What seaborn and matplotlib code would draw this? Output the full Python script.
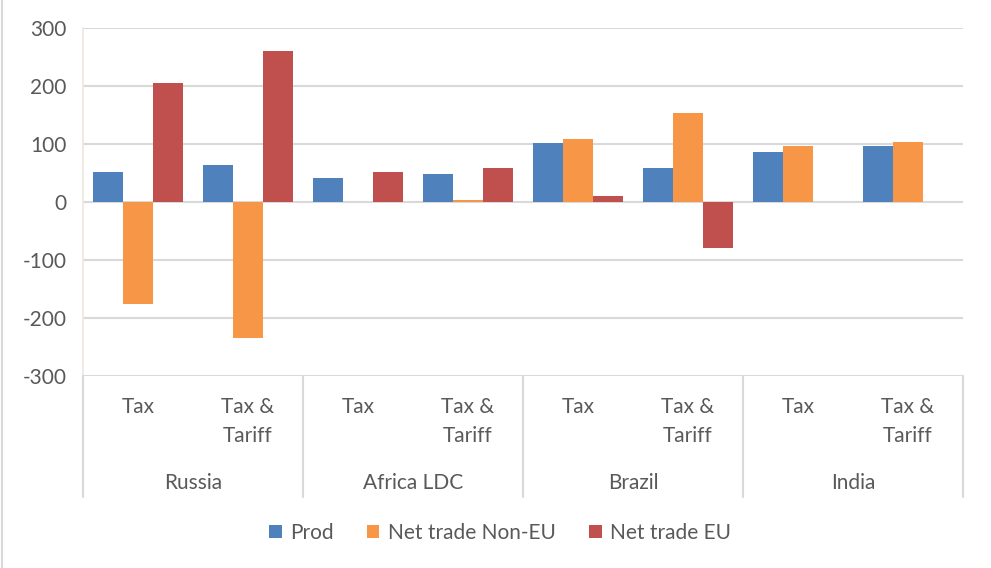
import matplotlib
matplotlib.use("Agg")
import matplotlib.pyplot as plt
import matplotlib.transforms as mtransforms
from matplotlib.lines import Line2D
from matplotlib.patches import Patch
import pandas as pd
import seaborn as sns

# Data
regions = ["Russia", "Africa LDC", "Brazil", "India"]
scenarios = ["Tax", "Tax &\nTariff"]
series = ["Prod", "Net trade Non-EU", "Net trade EU"]
prod = [52, 63, 42, 49, 101, 59, 87, 97]
net_non_eu = [-175, -234, 0, 4, 108, 153, 97, 104]
net_eu = [205, 260, 52, 59, 11, -79, 0, 0]
colors = ["#4F81BD", "#F79646", "#C0504D"]

W, H = 991, 568
TEXT = "#595959"
GRID = "#d9d9d9"
FS = 15

sns.set_style("white")
plt.rcParams["font.family"] = ["Lato", "DejaVu Sans"]
plt.rcParams["axes.unicode_minus"] = False

# long format table for seaborn
keys = [f"{r}|{s}" for r in regions for s in scenarios]
rows = []
for name, vals in zip(series, [prod, net_non_eu, net_eu]):
    for k, v in zip(keys, vals):
        rows.append({"cat": k, "series": name, "value": v})
df = pd.DataFrame(rows)

fig = plt.figure(figsize=(W / 100, H / 100), dpi=100)
ax = fig.add_axes([83 / W, 1 - 376 / H, (963 - 83) / W, (376 - 28) / H])

sns.barplot(
    data=df, x="cat", y="value", hue="series", order=keys, hue_order=series,
    palette=colors, saturation=1, width=0.82, linewidth=0, errorbar=None, ax=ax,
)
ax.legend_.remove()
ax.set_xlim(-0.5, len(keys) - 0.5)
ax.set_ylim(-300, 300)
ax.set_yticks(range(-300, 301, 100))
ax.yaxis.grid(True, color=GRID, linewidth=1.5)
ax.set_axisbelow(True)
ax.set_xlabel("")
ax.set_ylabel("")
ax.set_xticks([])
ax.tick_params(axis="y", length=0, labelsize=FS, labelcolor=TEXT, pad=12)
for side in ["top", "right", "bottom"]:
    ax.spines[side].set_visible(False)
ax.spines["left"].set_color("#ece8de")
ax.spines["left"].set_linewidth(1.2)

# multi-level category axis
trans = mtransforms.blended_transform_factory(ax.transData, fig.transFigure)
for i, k in enumerate(keys):
    reg, sc = k.split("|")
    for n, line in enumerate(sc.split("\n")):
        ax.text(i, 1 - (407 + 29 * n) / H, line, transform=trans, ha="center",
                va="center", fontsize=FS, color=TEXT)
for j, reg in enumerate(regions):
    ax.text(2 * j + 0.5, 1 - 483 / H, reg, transform=trans, ha="center",
            va="center", fontsize=FS, color=TEXT)
for b in [-0.5, 1.5, 3.5, 5.5, 7.5]:
    fig.add_artist(Line2D([b, b], [1 - 376 / H, 1 - 497 / H], transform=trans,
                          color=GRID, linewidth=1.5))

# chart-area border on the left
fig.add_artist(Line2D([1.5 / W, 1.5 / W], [0, 1], color=GRID, linewidth=1.5))

handles = [Patch(facecolor=c, edgecolor="none", label=s) for c, s in zip(colors, series)]
leg = fig.legend(handles=handles, loc="center", bbox_to_anchor=(500 / W, 1 - 533 / H),
                 ncol=3, frameon=False, fontsize=FS, handlelength=0.6,
                 handleheight=0.6, handletextpad=0.4, columnspacing=1.6)
for t in leg.get_texts():
    t.set_color(TEXT)

fig.savefig("out.png", dpi=100)
